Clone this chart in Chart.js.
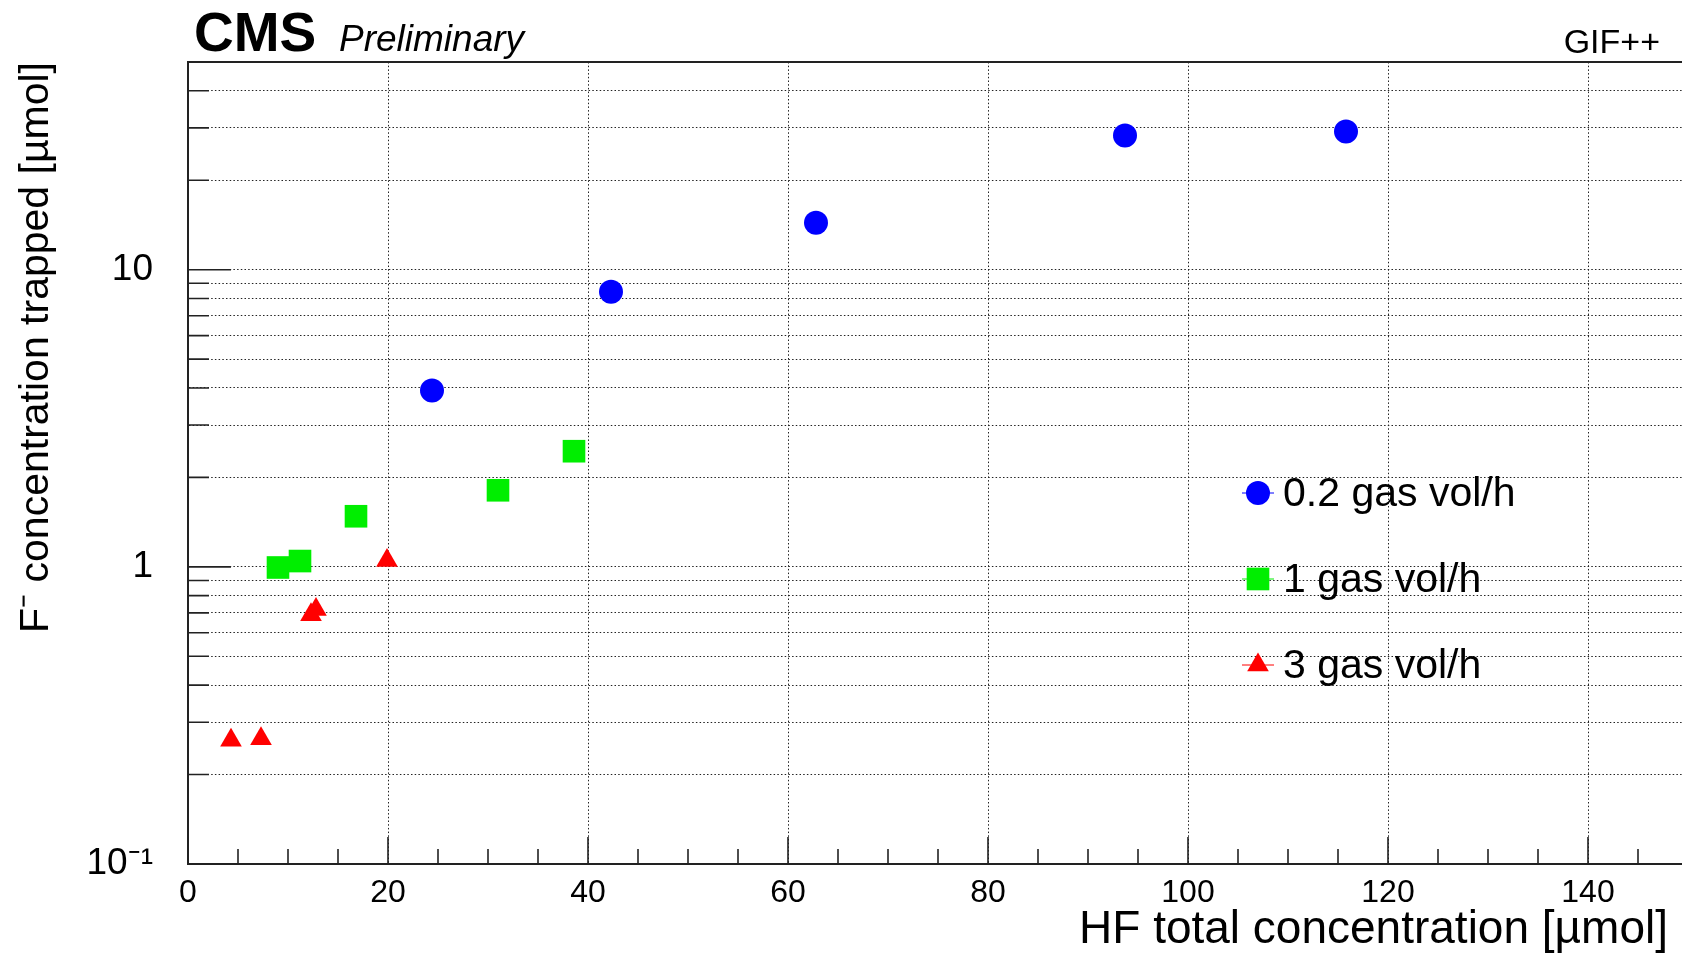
<!DOCTYPE html>
<html>
<head>
<meta charset="utf-8">
<script src="https://cdn.jsdelivr.net/npm/chart.js@4/dist/chart.umd.min.js"></script>
<style>
  html, body { margin: 0; padding: 0; background: #fff; }
  canvas { display: block; }
</style>
</head>
<body>
<canvas id="chart" width="1682" height="957"></canvas>
<script>
// values
const seriesLabels = ["0.2 gas vol/h", "1 gas vol/h", "3 gas vol/h"];
const blueX = [24.4, 42.3, 62.8, 93.7, 115.8];
const blueY = [3.92, 8.43, 14.4, 28.3, 29.2];
const greenX = [9.0, 11.2, 16.8, 31.0, 38.6];
const greenY = [0.995, 1.046, 1.48, 1.81, 2.45];
const redX = [4.3, 7.3, 12.3, 12.8, 19.9];
const redY = [0.261, 0.264, 0.69, 0.718, 1.05];

const xMajorTicks = [0, 20, 40, 60, 80, 100, 120, 140];
const xMinorTicks = [5, 10, 15, 25, 30, 35, 45, 50, 55, 65, 70, 75, 85, 90, 95, 105, 110, 115, 125, 130, 135, 145];
const yTicks = [0.1, 0.2, 0.3, 0.4, 0.5, 0.6, 0.7, 0.8, 0.9, 1, 2, 3, 4, 5, 6, 7, 8, 9, 10, 20, 30, 40];
const yMajorTicks = [0.1, 1, 10];
const yLabels = { "0.1": "10\u207B\u00B9", "1": "1", "10": "10" };

const FONT = "'Liberation Sans', Arial, Helvetica, sans-serif";
Chart.defaults.font.family = FONT;
Chart.defaults.color = "#000";

const toPoints = (xs, ys) => xs.map((v, i) => ({ x: v, y: ys[i] }));

const styles = [
  { color: "#0000ff", pointStyle: "circle", radius: 12 },
  { color: "#00ee00", pointStyle: "rect", radius: 16 },
  { color: "#ff0000", pointStyle: "triangle", radius: 12.5 },
];

function marker(ctx, style, x, y) {
  ctx.fillStyle = style.color;
  ctx.beginPath();
  if (style.pointStyle === "circle") {
    ctx.arc(x, y, style.radius, 0, Math.PI * 2);
  } else if (style.pointStyle === "rect") {
    const h = style.radius * Math.SQRT1_2;
    ctx.rect(x - h, y - h, 2 * h, 2 * h);
  } else {
    const r = style.radius;
    ctx.moveTo(x, y - r);
    ctx.lineTo(x + r * 0.866, y + r * 0.5);
    ctx.lineTo(x - r * 0.866, y + r * 0.5);
    ctx.closePath();
  }
  ctx.fill();
}

const decorations = {
  id: "decorations",
  beforeDatasetsDraw(chart) {
    const { ctx, chartArea: a, scales: { x, y } } = chart;
    ctx.save();
    ctx.strokeStyle = "#222";
    ctx.lineWidth = 2;
    ctx.beginPath();
    ctx.moveTo(a.left, a.top);
    ctx.lineTo(a.right, a.top);
    ctx.stroke();

    // ROOT style ticks, pointing into the frame
    ctx.lineWidth = 1.6;
    ctx.beginPath();
    xMajorTicks.forEach((v) => {
      const px = x.getPixelForValue(v);
      ctx.moveTo(px, a.bottom);
      ctx.lineTo(px, a.bottom - 27);
    });
    xMinorTicks.forEach((v) => {
      const px = x.getPixelForValue(v);
      ctx.moveTo(px, a.bottom);
      ctx.lineTo(px, a.bottom - 15);
    });
    yTicks.forEach((v) => {
      const py = y.getPixelForValue(v);
      const len = yMajorTicks.includes(v) ? 43 : 21;
      ctx.moveTo(a.left, py);
      ctx.lineTo(a.left + len, py);
    });
    ctx.stroke();
    ctx.restore();
  },
  afterDraw(chart) {
    const { ctx, chartArea: a } = chart;
    ctx.save();
    ctx.fillStyle = "#000";
    ctx.textBaseline = "alphabetic";

    ctx.font = "bold 55px " + FONT;
    ctx.textAlign = "left";
    ctx.fillText("CMS", 194, 51);
    ctx.font = "italic 37px " + FONT;
    ctx.fillText("Preliminary", 339, 51);

    ctx.font = "34px " + FONT;
    ctx.textAlign = "right";
    ctx.fillText("GIF++", 1660, 53);

    ctx.font = "46px " + FONT;
    ctx.fillText("HF total concentration [\u00B5mol]", 1668, 943);

    ctx.save();
    ctx.translate(48, a.top);
    ctx.rotate(-Math.PI / 2);
    ctx.font = "41px " + FONT;
    ctx.textAlign = "right";
    ctx.fillText("F\u207B concentration trapped [\u00B5mol]", 0, 0);
    ctx.restore();

    // legend
    const lx = 1258;
    ctx.font = "41px " + FONT;
    ctx.textAlign = "left";
    ctx.textBaseline = "middle";
    chart.data.datasets.forEach((ds, i) => {
      const ly = 493 + i * 86;
      const st = styles[i];
      ctx.strokeStyle = st.color;
      ctx.lineWidth = 1;
      ctx.beginPath();
      ctx.moveTo(lx - 16, ly);
      ctx.lineTo(lx + 16, ly);
      ctx.stroke();
      marker(ctx, st, lx, ly);
      ctx.fillStyle = "#000";
      ctx.fillText(ds.label, lx + 25, ly + 2);
    });
    ctx.restore();
  },
};

const datasets = [toPoints(blueX, blueY), toPoints(greenX, greenY), toPoints(redX, redY)].map((pts, i) => ({
  label: seriesLabels[i],
  data: pts,
  pointStyle: styles[i].pointStyle,
  pointRadius: styles[i].radius,
  backgroundColor: styles[i].color,
  borderColor: styles[i].color,
  borderWidth: 0,
  showLine: false,
}));

const dotted = [1.5, 2.2];

new Chart(document.getElementById("chart"), {
  type: "scatter",
  data: { datasets },
  options: {
    responsive: false,
    animation: false,
    devicePixelRatio: 1,
    layout: { autoPadding: false, padding: { top: 62, right: 0, bottom: 0, left: 0 } },
    plugins: { legend: { display: false }, tooltip: { enabled: false } },
    scales: {
      x: {
        type: "linear",
        min: 0,
        max: 149.4,
        afterBuildTicks: (s) => { s.ticks = xMajorTicks.map((v) => ({ value: v })); },
        afterFit: (s) => { s.height = 93; s.paddingLeft = 0; s.paddingRight = 0; },
        ticks: { font: { size: 32 }, color: "#000", padding: 10, maxRotation: 0, autoSkip: false },
        grid: { color: "#222", lineWidth: 1, drawTicks: false },
        border: { display: true, color: "#222", width: 2, dash: dotted },
      },
      y: {
        type: "logarithmic",
        min: 0.1,
        max: 50,
        afterBuildTicks: (s) => { s.ticks = yTicks.map((v) => ({ value: v })); },
        afterFit: (s) => { s.width = 188; s.paddingTop = 0; s.paddingBottom = 0; },
        ticks: {
          font: { size: 37 },
          color: "#000",
          padding: 35,
          autoSkip: false,
          callback: (v) => yLabels[String(v)] || "",
        },
        grid: { color: "#222", lineWidth: 1, drawTicks: false },
        border: { display: true, color: "#222", width: 2, dash: dotted },
      },
    },
  },
  plugins: [decorations],
});
</script>
</body>
</html>
